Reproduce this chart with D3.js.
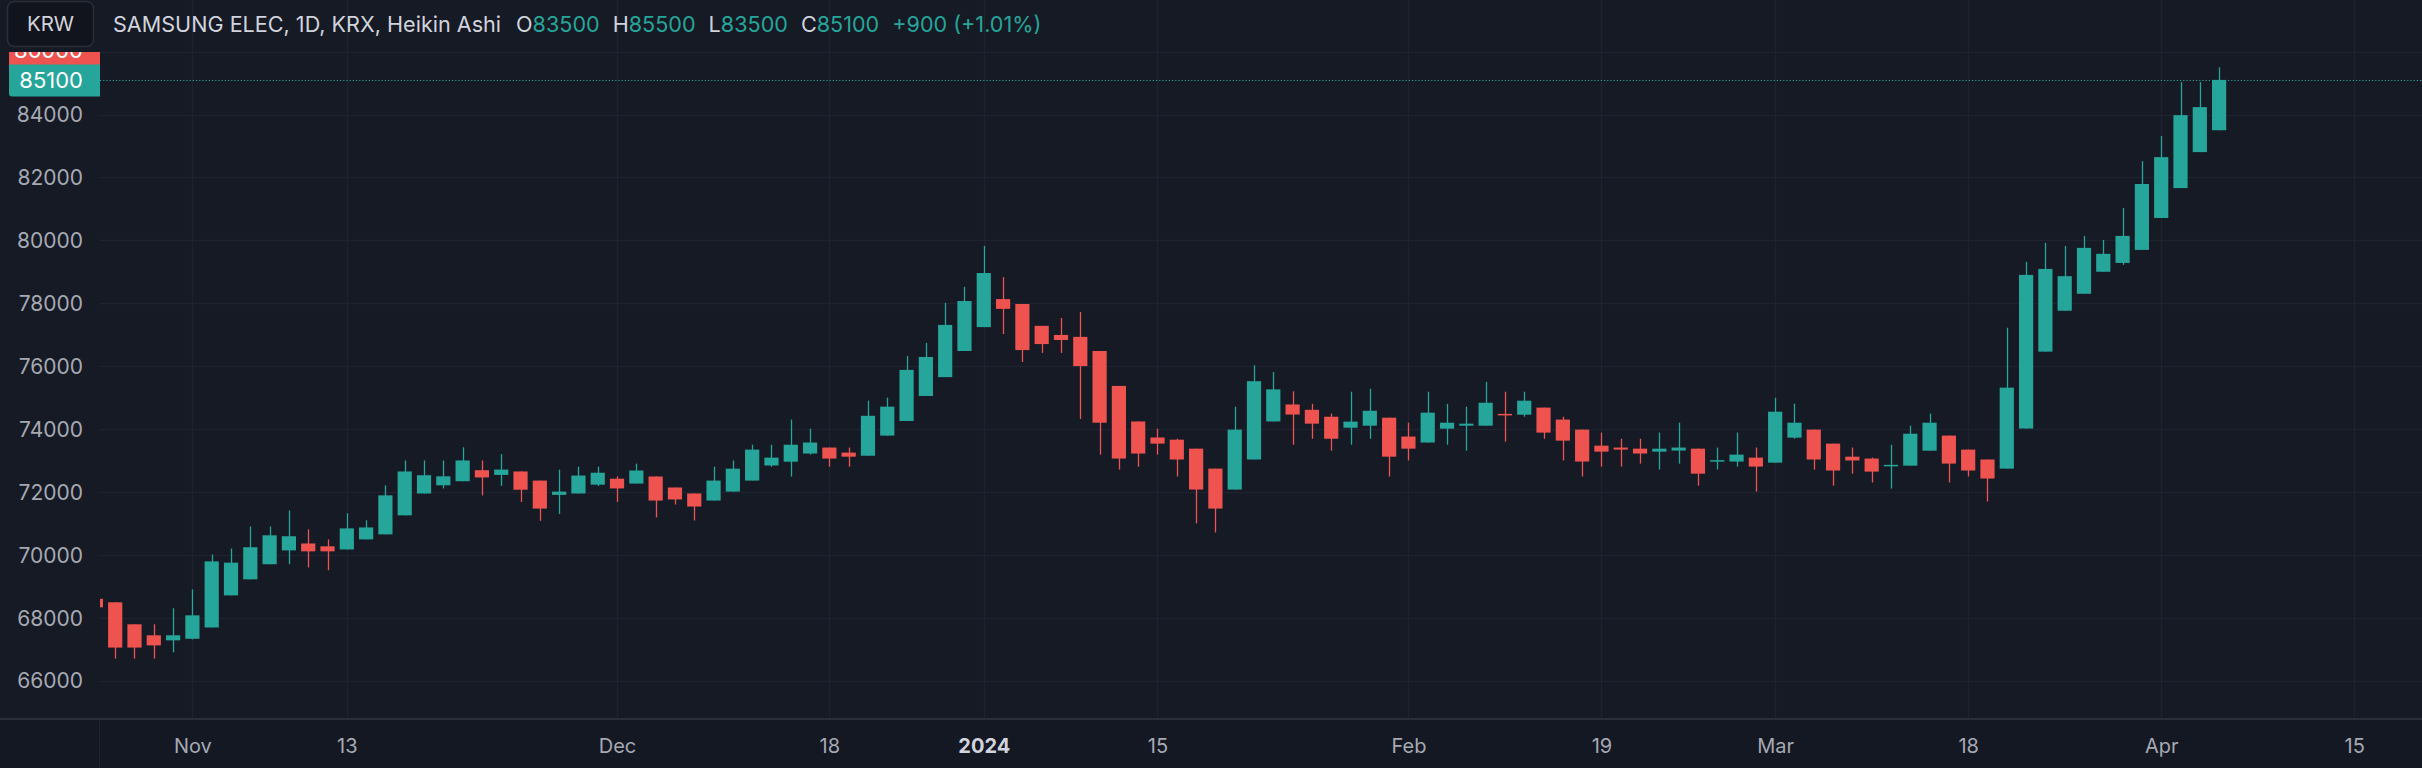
<!DOCTYPE html>
<html>
<head>
<meta charset="utf-8">
<script src="https://cdn.jsdelivr.net/npm/d3@7"></script>
<style>
  html, body { margin: 0; padding: 0; background: #161a25; overflow: hidden; }
  svg { display: block; }
  text { font-family: Inter, "Noto Sans", sans-serif; }
</style>
</head>
<body>
<svg id="chart" width="2422" height="768"></svg>
<script>
// ---------------- data ----------------
const dates = [
  "2023-10-25","2023-10-26","2023-10-27","2023-10-30","2023-10-31",
  "2023-11-01","2023-11-02","2023-11-03","2023-11-06","2023-11-07","2023-11-08","2023-11-09","2023-11-10",
  "2023-11-13","2023-11-14","2023-11-15","2023-11-16","2023-11-17","2023-11-20","2023-11-21","2023-11-22",
  "2023-11-23","2023-11-24","2023-11-27","2023-11-28","2023-11-29","2023-11-30",
  "2023-12-01","2023-12-04","2023-12-05","2023-12-06","2023-12-07","2023-12-08","2023-12-11","2023-12-12",
  "2023-12-13","2023-12-14","2023-12-15","2023-12-18","2023-12-19","2023-12-20","2023-12-21","2023-12-22",
  "2023-12-26","2023-12-27","2023-12-28",
  "2024-01-02","2024-01-03","2024-01-04","2024-01-05","2024-01-08","2024-01-09","2024-01-10","2024-01-11",
  "2024-01-12","2024-01-15","2024-01-16","2024-01-17","2024-01-18","2024-01-19","2024-01-22","2024-01-23",
  "2024-01-24","2024-01-25","2024-01-26","2024-01-29","2024-01-30","2024-01-31",
  "2024-02-01","2024-02-02","2024-02-05","2024-02-06","2024-02-07","2024-02-08","2024-02-13","2024-02-14",
  "2024-02-15","2024-02-16","2024-02-19","2024-02-20","2024-02-21","2024-02-22","2024-02-23","2024-02-26",
  "2024-02-27","2024-02-28","2024-02-29",
  "2024-03-04","2024-03-05","2024-03-06","2024-03-07","2024-03-08","2024-03-11","2024-03-12","2024-03-13",
  "2024-03-14","2024-03-15","2024-03-18","2024-03-19","2024-03-20","2024-03-21","2024-03-22","2024-03-25",
  "2024-03-26","2024-03-27","2024-03-28","2024-03-29",
  "2024-04-01","2024-04-02","2024-04-03","2024-04-04",
  // future slots on the time scale (no candles)
  "2024-04-05","2024-04-08","2024-04-09","2024-04-10","2024-04-11","2024-04-12","2024-04-15"
];

const open = [
  68600,68490,67790,67440,67280,
  67330,67690,68710,69220,69700,70140,70360,70270,
  70170,70490,70650,71255,71950,72210,72340,72690,
  72540,72650,72360,71905,71950,72230,
  72420,72265,72490,72140,71950,71725,72010,72360,
  72840,72960,73220,73410,73250,73150,73790,74255,
  75050,75650,76480,
  77240,78130,77975,77280,76990,76930,76480,75370,
  74240,73730,73660,73375,72740,72075,73030,74240,
  74780,74610,74390,74040,74105,74360,
  73760,73570,74010,74105,74105,74480,74455,74680,
  74300,73980,73470,73410,73375,73280,73315,73375,
  73000,72965,73090,
  72930,73725,73980,73535,73120,73060,72855,72835,
  73310,73790,73345,73030,72740,74015,76460,77760,
  78300,79000,79280,79695,
  80710,81660,82805,83500
];
const high = [
  68600,68490,67790,67790,68300,
  68900,70010,70200,70900,70900,71410,70810,70490,
  71320,71100,72210,73000,73000,73000,73420,73000,
  73200,72650,72360,72710,72800,72800,
  72490,72900,72490,72140,71950,72800,73000,73500,
  73500,74300,74010,73410,73410,74900,75000,76320,
  76735,78010,78520,
  79820,78830,77975,77280,77530,77720,76480,75370,
  74240,74010,73690,73375,72740,74710,76025,75810,
  75200,74800,74490,75185,75280,74360,
  74200,75185,74800,74710,75500,75185,75185,74680,
  74390,73980,73885,73690,73690,73885,74200,73375,
  73410,73885,73410,
  74995,74805,73980,73535,73410,73090,73500,74105,
  74490,73790,73345,73030,77220,79315,79920,79820,
  80140,80010,81030,82520,
  83315,85030,85030,85500
];
const low = [
  68330,66700,66700,66700,66900,
  67310,67690,68710,69220,69700,69700,69600,69510,
  70170,70490,70650,71255,71950,72110,72340,71890,
  72190,71680,71080,71300,71950,72190,
  71680,72265,71190,71600,71090,71725,72010,72360,
  72800,72490,73185,72800,72800,73150,73790,74255,
  75050,75650,76480,
  77240,77020,76130,76420,76420,74320,73185,72710,
  72800,73185,72490,71000,70710,72075,73030,74240,
  73500,73690,73310,73500,73690,72490,
  73000,73570,73500,73310,74105,73600,74390,73690,
  73000,72490,72805,72805,72900,72710,72900,72200,
  72710,72805,72010,
  72930,73690,72710,72200,72580,72300,72105,72835,
  73310,72300,72490,71695,72740,74015,76460,77760,
  78300,79000,79220,79695,
  80710,81660,82805,83500
];
const close = [
  68330,67050,67050,67120,67440,
  68075,69790,69750,70240,70620,70590,70110,70110,
  70840,70870,71890,72650,72530,72495,73000,72460,
  72710,72070,71470,72010,72520,72610,
  72110,72680,71725,71760,71535,72360,72740,73345,
  73090,73500,73570,73060,73120,74420,74710,75880,
  76290,77310,78070,
  78960,77820,76510,76700,76830,76000,74200,73060,
  73220,73535,73030,72075,71470,73980,75520,75260,
  74460,74170,73690,74235,74580,73120,
  73375,74520,74200,74170,74835,74460,74900,73885,
  73630,72965,73280,73345,73220,73375,73410,72580,
  73010,73185,72805,
  74550,74200,73030,72680,73000,72645,72860,73850,
  74200,72900,72680,72425,75315,78900,79090,78860,
  79760,79570,80140,81790,
  82645,83980,84235,85100
];

const yTicks = [66000, 68000, 70000, 72000, 74000, 76000, 78000, 80000, 82000, 84000, 86000];
const yLabels = ["66000","68000","70000","72000","74000","76000","78000","80000","82000","84000"];
const xTickDates = ["2023-11-01","2023-11-13","2023-12-01","2023-12-18","2024-01-02","2024-01-15",
                    "2024-02-01","2024-02-19","2024-03-04","2024-03-18","2024-04-01","2024-04-15"];
const xTickLabels = ["Nov","13","Dec","18","2024","15","Feb","19","Mar","18","Apr","15"];

const symbolTitle = "SAMSUNG ELEC, 1D, KRX, Heikin Ashi";
const legend = { O: "83500", H: "85500", L: "83500", C: "85100", change: "+900 (+1.01%)" };
const lastPrice = 85100;
const hiddenTag = { value: 86050, text: "86000" };

// ---------------- layout ----------------
const W = 2422, H = 768;
const plotLeft = 100, plotBottom = 718;
const UP = "#26a69a", DOWN = "#ef5350";
const GRID = "#1f2330";

const svg = d3.select("#chart");
svg.append("rect").attr("width", W).attr("height", H).attr("fill", "#161a25");

const x = d3.scaleLinear().domain([5, 107]).range([192.4, 2161.2]);
const y = d3.scaleLinear().domain([66000, 84000]).range([680.6, 114.5]);
const bodyW = 14.2;

const candles = open.map((o, i) => ({ i, date: dates[i], o, h: high[i], l: low[i], c: close[i] }));

// clip for plot
svg.append("clipPath").attr("id", "plotclip")
  .append("rect").attr("x", plotLeft).attr("y", 0).attr("width", W - plotLeft).attr("height", plotBottom);

// grid
const grid = svg.append("g").attr("clip-path", "url(#plotclip)");
grid.selectAll("line.h").data(yTicks).join("line")
  .attr("x1", plotLeft).attr("x2", W)
  .attr("y1", d => Math.round(y(d)) + 0.5).attr("y2", d => Math.round(y(d)) + 0.5)
  .attr("stroke", GRID).attr("stroke-width", 1.5);
grid.selectAll("line.v").data(xTickDates).join("line")
  .attr("x1", d => Math.round(x(dates.indexOf(d))) + 0.5)
  .attr("x2", d => Math.round(x(dates.indexOf(d))) + 0.5)
  .attr("y1", 0).attr("y2", plotBottom)
  .attr("stroke", GRID).attr("stroke-width", 1.5);

// candles
const cg = svg.append("g").attr("clip-path", "url(#plotclip)");
const g = cg.selectAll("g.candle").data(candles).join("g");
g.append("line")
  .attr("x1", d => Math.round(x(d.i)) + 0.5).attr("x2", d => Math.round(x(d.i)) + 0.5)
  .attr("y1", d => y(d.h)).attr("y2", d => y(d.l))
  .attr("stroke", d => d.c >= d.o ? UP : DOWN).attr("stroke-width", 1.3);
g.append("rect")
  .attr("x", d => x(d.i) - bodyW / 2)
  .attr("width", bodyW)
  .attr("y", d => y(Math.max(d.o, d.c)))
  .attr("height", d => Math.max(1.5, Math.abs(y(d.o) - y(d.c))))
  .attr("fill", d => d.c >= d.o ? UP : DOWN);

// last price dotted line
svg.append("line")
  .attr("x1", plotLeft).attr("x2", W)
  .attr("y1", Math.round(y(lastPrice)) + 0.5).attr("y2", Math.round(y(lastPrice)) + 0.5)
  .attr("stroke", UP).attr("stroke-width", 1.2).attr("stroke-dasharray", "1.2,2");

// y axis labels
const yAxis = d3.axisLeft(y).tickValues(yLabels.map(Number)).tickFormat((d, i) => yLabels[i]).tickSize(0);
const ya = svg.append("g").attr("transform", "translate(86,0)").call(yAxis);
ya.select(".domain").remove();
ya.selectAll("text").attr("font-size", 21).attr("fill", "#a6a9b2")
  .attr("font-family", "Inter, sans-serif").attr("dx", 0).attr("dy", "0.35em");

// price tags
const tagClip = svg.append("clipPath").attr("id", "tagclip");
tagClip.append("rect").attr("x", 0).attr("y", 52).attr("width", plotLeft).attr("height", 20);
const hidden = svg.append("g").attr("clip-path", "url(#tagclip)");
hidden.append("rect").attr("x", 9).attr("y", y(hiddenTag.value) - 15).attr("width", 91).attr("height", 30)
  .attr("fill", DOWN);
hidden.append("text").attr("x", 83).attr("y", y(hiddenTag.value)).attr("dy", "0.36em")
  .attr("text-anchor", "end").attr("font-size", 22).attr("fill", "#ffffff").text(hiddenTag.text);

const tagY = y(lastPrice);
svg.append("path")
  .attr("d", `M9,${tagY - 15.5} H100 V${tagY + 16.5} H12 Q9,${tagY + 16.5} 9,${tagY + 13.5} Z`)
  .attr("fill", UP);
svg.append("text").attr("x", 83).attr("y", tagY + 0.5).attr("dy", "0.36em")
  .attr("text-anchor", "end").attr("font-size", 22).attr("fill", "#ffffff").text(String(lastPrice));

// x axis area
svg.append("rect").attr("x", 0).attr("y", plotBottom).attr("width", W).attr("height", H - plotBottom)
  .attr("fill", "#141823");
svg.append("line").attr("x1", 0).attr("x2", W).attr("y1", plotBottom + 1).attr("y2", plotBottom + 1)
  .attr("stroke", "#2a2e39").attr("stroke-width", 2);
svg.append("line").attr("x1", 99.5).attr("x2", 99.5).attr("y1", plotBottom + 2).attr("y2", H)
  .attr("stroke", "#1f2330").attr("stroke-width", 1);

const xAxis = d3.axisBottom(x)
  .tickValues(xTickDates.map(d => dates.indexOf(d)))
  .tickFormat((d, i) => xTickLabels[i]).tickSize(0);
const xa = svg.append("g").attr("transform", `translate(0,${plotBottom})`).call(xAxis);
xa.select(".domain").remove();
xa.selectAll("text").attr("y", 28).attr("dy", "0.35em").attr("font-size", 20)
  .attr("font-family", "Inter, sans-serif")
  .attr("fill", (d, i) => xTickLabels[i] === "2024" ? "#d1d4dc" : "#a6a9b2")
  .attr("font-weight", (d, i) => xTickLabels[i] === "2024" ? 700 : 400);

// header
svg.append("rect").attr("x", 7.5).attr("y", 1.5).attr("width", 86).attr("height", 45).attr("rx", 7)
  .attr("fill", "#11141c").attr("stroke", "#2a2e39").attr("stroke-width", 1.5);
svg.append("text").attr("x", 50.5).attr("y", 24).attr("dy", "0.36em").attr("text-anchor", "middle")
  .attr("font-size", 20.5).attr("fill", "#d1d4dc").text("KRW");

const hdr = svg.append("text").attr("x", 113).attr("y", 24).attr("dy", "0.36em")
  .attr("font-size", 21.6).attr("fill", "#d1d4dc");
hdr.append("tspan").text(symbolTitle);
const parts = [["O", legend.O], ["H", legend.H], ["L", legend.L], ["C", legend.C]];
parts.forEach(([k, v], i) => {
  hdr.append("tspan").attr("dx", i === 0 ? 15 : 13).attr("fill", "#d1d4dc").text(k);
  hdr.append("tspan").attr("fill", UP).text(v);
});
hdr.append("tspan").attr("dx", 13).attr("fill", UP).text(legend.change);
</script>
</body>
</html>
